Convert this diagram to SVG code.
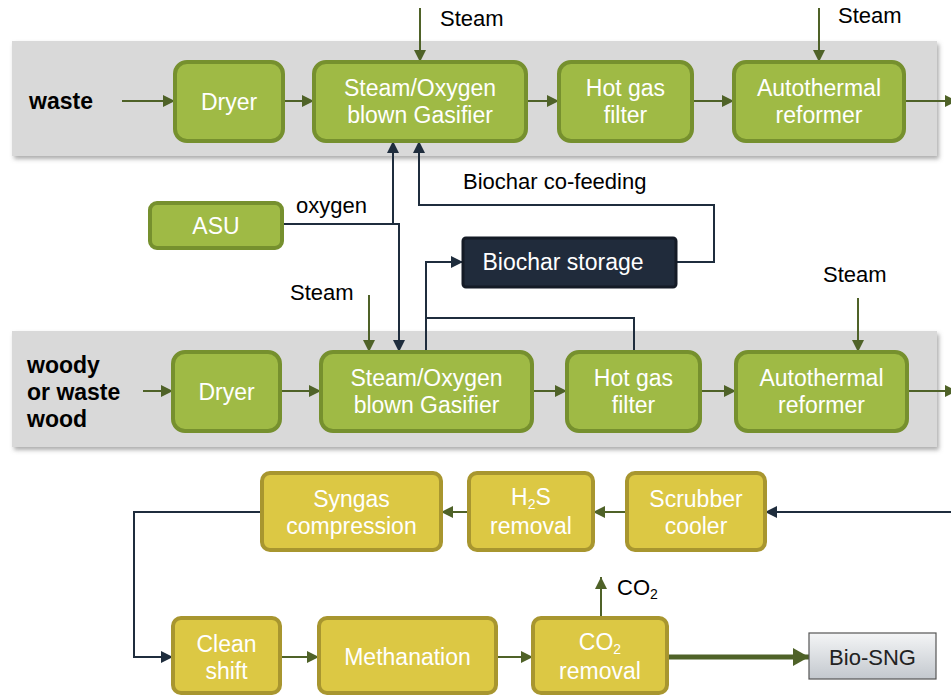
<svg xmlns="http://www.w3.org/2000/svg" width="951" height="697" viewBox="0 0 951 697">
<style>
text{font-family:"Liberation Sans",Arial,sans-serif}
.lbl{font-size:22px;fill:#000}
.side{font-size:23px;font-weight:bold;fill:#000}
.bt{font-size:23px;fill:#fff;text-anchor:middle}
.sub{font-size:14px}
.gbox{fill:#9fba45;stroke:#76902e;stroke-width:4}
.ybox{fill:#dcc844;stroke:#a8962f;stroke-width:4}
.panel{fill:#d9d9d9}
.g{fill:none;stroke:#4f6228;stroke-width:2}
.gt{fill:none;stroke:#4f6228;stroke-width:5}
.n{fill:none;stroke:#1f2d3d;stroke-width:2}
</style>
<defs>
<filter id="sh" x="-5%" y="-10%" width="110%" height="125%">
<feDropShadow dx="2" dy="3" stdDeviation="2" flood-color="#777" flood-opacity="0.6"/>
</filter>
<linearGradient id="bsng" x1="0" y1="0" x2="0" y2="1">
<stop offset="0" stop-color="#f4f5f6"/>
<stop offset="1" stop-color="#c3c8ce"/>
</linearGradient>
<marker id="ag" markerUnits="userSpaceOnUse" markerWidth="12" markerHeight="12" refX="12" refY="6" orient="auto">
<path d="M0,0 L12,6 L0,12 z" fill="#4f6228"/>
</marker>
<marker id="an" markerUnits="userSpaceOnUse" markerWidth="12" markerHeight="12" refX="12" refY="6" orient="auto">
<path d="M0,0 L12,6 L0,12 z" fill="#1f2d3d"/>
</marker>
<marker id="agb" markerUnits="userSpaceOnUse" markerWidth="16" markerHeight="18" refX="16" refY="9" orient="auto">
<path d="M0,0 L16,9 L0,18 z" fill="#4f6228"/>
</marker>
</defs>

<rect class="panel" x="12" y="41" width="925" height="115" filter="url(#sh)"/>
<rect class="panel" x="12" y="331" width="925" height="116" filter="url(#sh)"/>

<text class="side" x="29" y="109">waste</text>
<text class="side" x="27" y="373">woody</text>
<text class="side" x="27" y="400">or waste</text>
<text class="side" x="27" y="427">wood</text>

<g id="connectors">
<path class="g" d="M122,101 H175" marker-end="url(#ag)"/>
<path class="g" d="M283,101 H314" marker-end="url(#ag)"/>
<path class="g" d="M526,101 H559" marker-end="url(#ag)"/>
<path class="g" d="M692,101 H734" marker-end="url(#ag)"/>
<path class="g" d="M904,101 H957" marker-end="url(#ag)"/>
<path class="g" d="M420,8 V62" marker-end="url(#ag)"/>
<path class="g" d="M819,8 V62" marker-end="url(#ag)"/>

<path class="n" d="M282,224 H399 V352" marker-end="url(#an)"/>
<path class="n" d="M393,224 V141" marker-end="url(#an)"/>
<path class="n" d="M676,262 H714 V205 H419 V141" marker-end="url(#an)"/>
<path class="n" d="M426,352 V262 H463" marker-end="url(#an)"/>
<path class="n" d="M634,352 V318 H426"/>

<path class="g" d="M369,295 V352" marker-end="url(#ag)"/>
<path class="g" d="M858,298 V352" marker-end="url(#ag)"/>
<path class="g" d="M143,391 H173" marker-end="url(#ag)"/>
<path class="g" d="M280,391 H321" marker-end="url(#ag)"/>
<path class="g" d="M532,391 H567" marker-end="url(#ag)"/>
<path class="g" d="M700,391 H736" marker-end="url(#ag)"/>
<path class="g" d="M907,391 H957" marker-end="url(#ag)"/>

<path class="n" d="M951,512 H765" marker-end="url(#an)"/>
<path class="g" d="M627,512 H593" marker-end="url(#ag)"/>
<path class="g" d="M469,512 H441" marker-end="url(#ag)"/>
<path class="n" d="M262,512 H134 V657 H173" marker-end="url(#an)"/>
<path class="g" d="M280,657 H319" marker-end="url(#ag)"/>
<path class="g" d="M496,657 H533" marker-end="url(#ag)"/>
<path class="gt" d="M667,657 H809" marker-end="url(#agb)"/>
<path class="g" d="M601,618 V577" marker-end="url(#ag)"/>
</g>

<text class="lbl" x="440" y="26">Steam</text>
<text class="lbl" x="838" y="23">Steam</text>
<text class="lbl" x="463" y="189">Biochar co-feeding</text>
<text class="lbl" x="296" y="213">oxygen</text>
<text class="lbl" x="290" y="300">Steam</text>
<text class="lbl" x="823" y="282">Steam</text>
<text class="lbl" x="617" y="595">CO<tspan class="sub" dy="4">2</tspan></text>

<g id="dryer1"><rect class="gbox" x="175" y="62" width="108" height="79" rx="12"/><text class="bt" x="229" y="110">Dryer</text></g>
<g id="gasifier1"><rect class="gbox" x="314" y="62" width="212" height="79" rx="12"/><text class="bt" x="420" y="96">Steam/Oxygen</text><text class="bt" x="420" y="123">blown Gasifier</text></g>
<g id="hgf1"><rect class="gbox" x="559" y="62" width="133" height="79" rx="12"/><text class="bt" x="625.5" y="96">Hot gas</text><text class="bt" x="625.5" y="123">filter</text></g>
<g id="atr1"><rect class="gbox" x="734" y="62" width="170" height="79" rx="12"/><text class="bt" x="819" y="96">Autothermal</text><text class="bt" x="819" y="123">reformer</text></g>

<g id="asu"><rect class="gbox" x="150" y="203" width="132" height="45" rx="7"/><text class="bt" x="216" y="234">ASU</text></g>
<g id="storage"><rect x="463" y="238" width="213" height="49" rx="3" fill="#202b3b" stroke="#141b26" stroke-width="3"/><text class="bt" x="563" y="270">Biochar storage</text></g>

<g id="dryer2"><rect class="gbox" x="173" y="352" width="107" height="79" rx="12"/><text class="bt" x="226.5" y="400">Dryer</text></g>
<g id="gasifier2"><rect class="gbox" x="321" y="352" width="211" height="79" rx="12"/><text class="bt" x="426.5" y="386">Steam/Oxygen</text><text class="bt" x="426.5" y="413">blown Gasifier</text></g>
<g id="hgf2"><rect class="gbox" x="567" y="352" width="133" height="79" rx="12"/><text class="bt" x="633.5" y="386">Hot gas</text><text class="bt" x="633.5" y="413">filter</text></g>
<g id="atr2"><rect class="gbox" x="736" y="352" width="171" height="79" rx="12"/><text class="bt" x="821.5" y="386">Autothermal</text><text class="bt" x="821.5" y="413">reformer</text></g>

<g id="syngas"><rect class="ybox" x="262" y="473" width="179" height="77" rx="8"/><text class="bt" x="351.5" y="507">Syngas</text><text class="bt" x="351.5" y="534">compression</text></g>
<g id="h2s"><rect class="ybox" x="469" y="473" width="124" height="77" rx="8"/><text class="bt" x="531" y="505">H<tspan class="sub" dy="4">2</tspan><tspan dy="-4">S</tspan></text><text class="bt" x="531" y="534">removal</text></g>
<g id="scrubber"><rect class="ybox" x="627" y="473" width="138" height="77" rx="8"/><text class="bt" x="696" y="507">Scrubber</text><text class="bt" x="696" y="534">cooler</text></g>

<g id="cleanshift"><rect class="ybox" x="173" y="618" width="107" height="75" rx="8"/><text class="bt" x="226.5" y="652">Clean</text><text class="bt" x="226.5" y="679">shift</text></g>
<g id="methanation"><rect class="ybox" x="319" y="618" width="177" height="75" rx="8"/><text class="bt" x="407.5" y="665">Methanation</text></g>
<g id="co2removal"><rect class="ybox" x="533" y="618" width="134" height="75" rx="8"/><text class="bt" x="600" y="650">CO<tspan class="sub" dy="4">2</tspan></text><text class="bt" x="600" y="679">removal</text></g>
<g id="biosng"><rect x="809" y="633" width="127" height="46" fill="url(#bsng)" stroke="#555" stroke-width="1.2"/><text x="872.5" y="665" font-size="22" text-anchor="middle" fill="#222">Bio-SNG</text></g>
</svg>
